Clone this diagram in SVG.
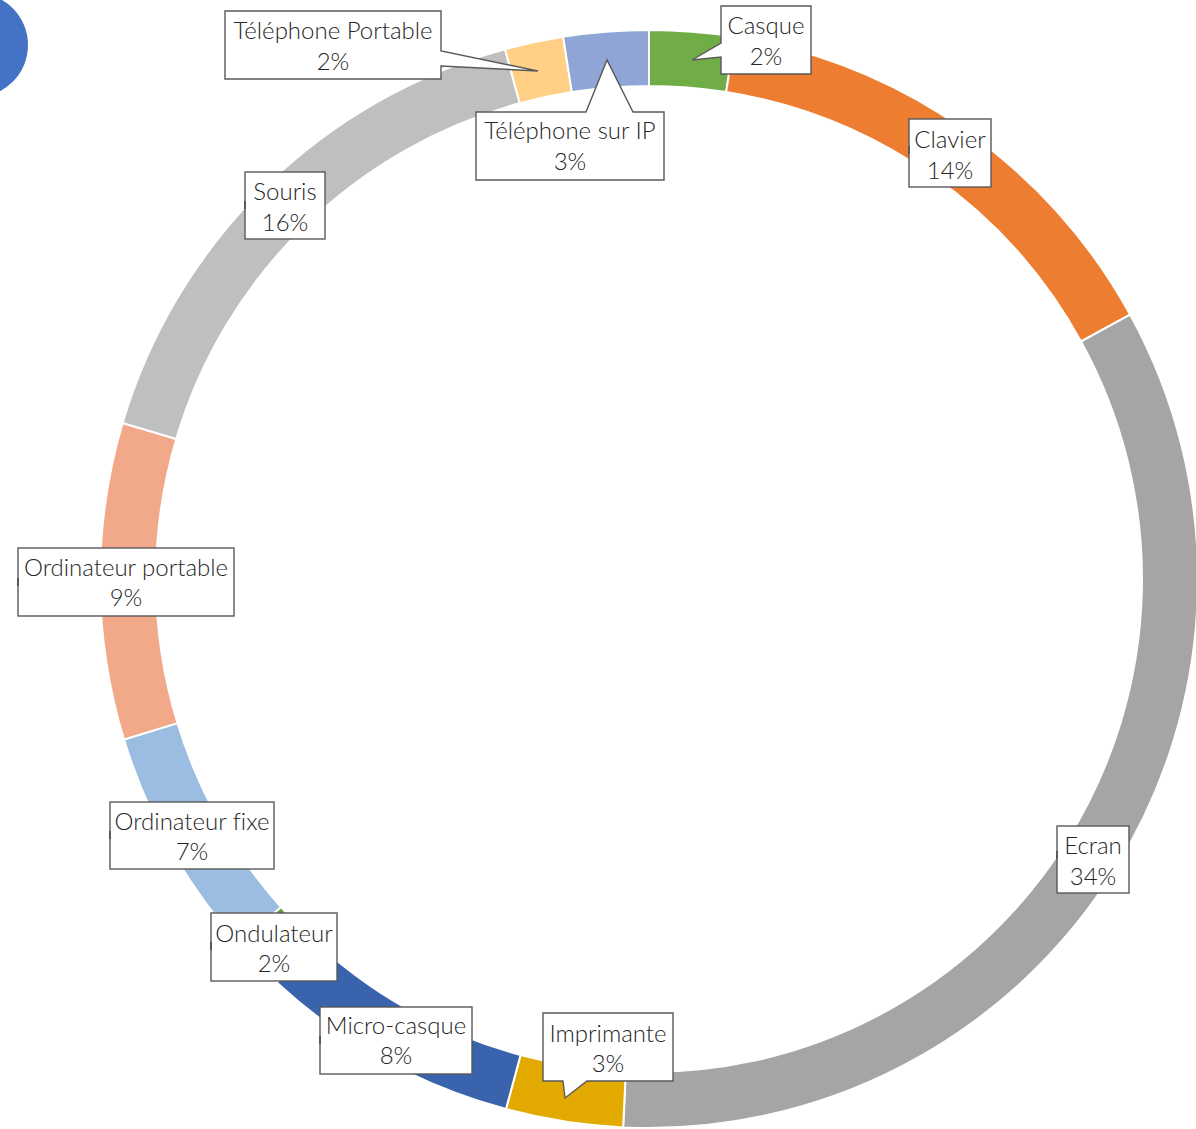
<svg xmlns="http://www.w3.org/2000/svg" width="1196" height="1129" viewBox="0 0 1196 1129">
<style>
.slice{stroke:#ffffff;stroke-width:2;stroke-linejoin:miter}
.box{fill:#ffffff;stroke:#595959;stroke-width:1.4}
.lbl{font-family:Lato,"Open Sans","Liberation Sans",sans-serif;font-size:24px;fill:#262626;text-anchor:middle;font-weight:300;font-variant-ligatures:none}
.tick{fill:#595959}
</style>
<rect width="1196" height="1129" fill="#ffffff"/>
<circle id="badge" cx="-24" cy="45" r="52" fill="#4472C4"/>
<g id="ring">
<path id="s-casque" class="slice" fill="#70AD47" d="M649,30 A549,549 0 0 1 734.88,36.76 L726.12,92.07 A493,493 0 0 0 649,86 Z"/>
<path id="s-clavier" class="slice" fill="#ED7D31" d="M734.88,36.76 A549,549 0 0 1 1130.09,314.52 L1081.02,341.50 A493,493 0 0 0 726.12,92.07 Z"/>
<path id="s-ecran" class="slice" fill="#A5A5A5" d="M1130.09,314.52 A549,549 0 0 1 623.14,1127.39 L625.78,1071.45 A493,493 0 0 0 1081.02,341.50 Z"/>
<path id="s-imprimante" class="slice" fill="#E2AA00" d="M623.14,1127.39 A549,549 0 0 1 505.99,1109.04 L520.57,1054.98 A493,493 0 0 0 625.78,1071.45 Z"/>
<path id="s-micro" class="slice" fill="#3A63AD" d="M505.99,1109.04 A549,549 0 0 1 276.69,982.47 L314.67,941.31 A493,493 0 0 0 520.57,1054.98 Z"/>
<path id="s-ondulateur" class="slice" fill="#62A03F" d="M276.69,982.47 A549,549 0 0 1 239.09,944.21 L280.91,906.96 A493,493 0 0 0 314.67,941.31 Z"/>
<path id="s-fixe" class="slice" fill="#9BBDE2" d="M239.09,944.21 A549,549 0 0 1 123.99,739.51 L177.54,723.14 A493,493 0 0 0 280.91,906.96 Z"/>
<path id="s-portable" class="slice" fill="#F1A98A" d="M123.99,739.51 A549,549 0 0 1 122.61,423.07 L176.30,438.98 A493,493 0 0 0 177.54,723.14 Z"/>
<path id="s-souris" class="slice" fill="#BFBFBF" d="M122.61,423.07 A549,549 0 0 1 505.06,49.20 L519.74,103.25 A493,493 0 0 0 176.30,438.98 Z"/>
<path id="s-telportable" class="slice" fill="#FFD085" d="M505.06,49.20 A549,549 0 0 1 563.12,36.76 L571.88,92.07 A493,493 0 0 0 519.74,103.25 Z"/>
<path id="s-telip" class="slice" fill="#8EA5D6" d="M563.12,36.76 A549,549 0 0 1 649,30 L649,86 A493,493 0 0 0 571.88,92.07 Z"/>
</g>
<g id="connectors"></g>
<g id="lbl-casque">
<path class="box" d="M721,6 H811 V74 H721 V57 L692,60 L721,43 Z"/>
<text class="lbl" x="766" y="34">Casque</text>
<text class="lbl" x="766" y="65">2%</text>
</g>
<g id="lbl-clavier">
<rect class="box" x="909" y="119" width="82" height="68"/>
<rect class="tick" x="908" y="146" width="2" height="8"/>
<text class="lbl" x="950" y="148">Clavier</text>
<text class="lbl" x="950" y="179">14%</text>
</g>
<g id="lbl-ecran">
<rect class="box" x="1057" y="826" width="72" height="67"/>
<rect class="tick" x="1056" y="851" width="2" height="8"/>
<text class="lbl" x="1093" y="854">Ecran</text>
<text class="lbl" x="1093" y="885">34%</text>
</g>
<g id="lbl-imprimante">
<path class="box" d="M543,1013 H673 V1081 H587 L565,1098 L563,1081 H543 Z"/>
<text class="lbl" x="608" y="1042">Imprimante</text>
<text class="lbl" x="608" y="1072">3%</text>
</g>
<g id="lbl-micro">
<rect class="box" x="320" y="1007" width="152" height="67"/>
<rect class="tick" x="319" y="1036" width="2" height="8"/>
<text class="lbl" x="396" y="1034">Micro-casque</text>
<text class="lbl" x="396" y="1064">8%</text>
</g>
<g id="lbl-ondulateur">
<rect class="box" x="211" y="913" width="126" height="68"/>
<rect class="tick" x="210" y="942" width="2" height="8"/>
<text class="lbl" x="274" y="942">Ondulateur</text>
<text class="lbl" x="274" y="972">2%</text>
</g>
<g id="lbl-fixe">
<rect class="box" x="110" y="802" width="164" height="67"/>
<rect class="tick" x="109" y="831" width="2" height="8"/>
<text class="lbl" x="192" y="830">Ordinateur fixe</text>
<text class="lbl" x="192" y="860">7%</text>
</g>
<g id="lbl-portable">
<rect class="box" x="18" y="548" width="216" height="68"/>
<rect class="tick" x="17" y="578" width="2" height="8"/>
<text class="lbl" x="126" y="576">Ordinateur portable</text>
<text class="lbl" x="126" y="606">9%</text>
</g>
<g id="lbl-souris">
<rect class="box" x="245" y="172" width="80" height="67"/>
<rect class="tick" x="244" y="201" width="2" height="8"/>
<text class="lbl" x="285" y="200">Souris</text>
<text class="lbl" x="285" y="231">16%</text>
</g>
<g id="lbl-telportable">
<path class="box" d="M225,11 H441 V51 L538,71 L441,66 V79 H225 Z"/>
<text class="lbl" x="333" y="39">Téléphone Portable</text>
<text class="lbl" x="333" y="70">2%</text>
</g>
<g id="lbl-telip">
<path class="box" d="M476,112 H586 L607,60 L633,112 H664 V180 H476 Z"/>
<text class="lbl" x="570" y="139">Téléphone sur IP</text>
<text class="lbl" x="570" y="170">3%</text>
</g>
</svg>
